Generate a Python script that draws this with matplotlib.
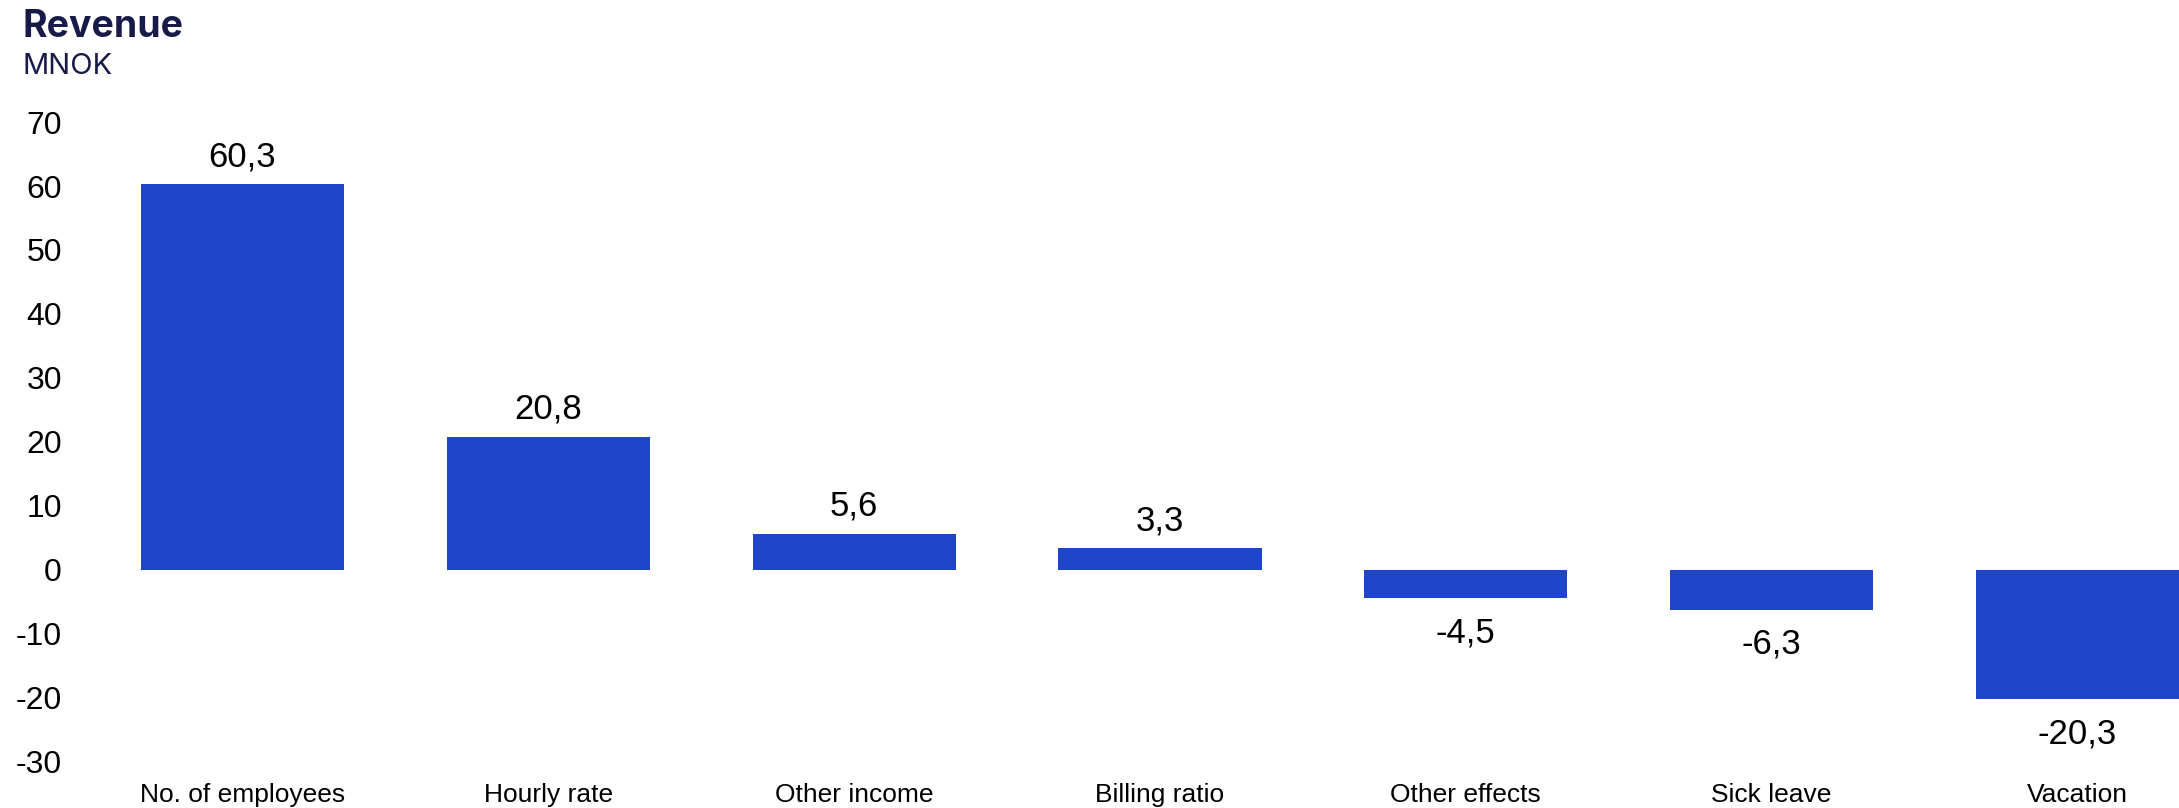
import matplotlib
matplotlib.use("Agg")
import matplotlib.pyplot as plt
from matplotlib import font_manager

# Revenue bridge drivers (MNOK)
categories = ["No. of employees", "Hourly rate", "Other income", "Billing ratio",
              "Other effects", "Sick leave", "Vacation"]
values = [60.3, 20.8, 5.6, 3.3, -4.5, -6.3, -20.3]
y_ticks = [-30, -20, -10, 0, 10, 20, 30, 40, 50, 60, 70]

BAR_COLOR = "#1e45c8"
NAVY = "#181b48"

installed = {f.name for f in font_manager.fontManager.ttflist}
body_font = "Liberation Sans" if "Liberation Sans" in installed else "DejaVu Sans"
head_font = "Inter" if "Inter" in installed else body_font
plt.rcParams["font.family"] = [body_font, "DejaVu Sans"]

fig = plt.figure(figsize=(21.79, 8.08), dpi=100)
ax = fig.add_axes([0.0647, 0.0579, 0.9353, 0.7909])

x = list(range(len(categories)))
ax.bar(x, values, width=0.664, color=BAR_COLOR, linewidth=0)

# value labels above / below each bar
for xi, v in zip(x, values):
    label = f"{v:.1f}".replace(".", ",")
    if v >= 0:
        ax.annotate(label, (xi, v), xytext=(0, 8), textcoords="offset points",
                    ha="center", va="bottom", fontsize=25, color="black")
    else:
        ax.annotate(label, (xi, v), xytext=(0, -13), textcoords="offset points",
                    ha="center", va="top", fontsize=25, color="black")

ax.set_xlim(-0.332, len(categories) - 1 + 0.332)
ax.set_ylim(-30, 70)
ax.set_yticks(y_ticks)
ax.set_yticklabels([str(t) for t in y_ticks], fontsize=23)
ax.set_xticks(x)
ax.set_xticklabels(categories, fontsize=19)
ax.tick_params(axis="y", length=0, pad=57)
ax.tick_params(axis="x", length=0, pad=16)
for s in ax.spines.values():
    s.set_visible(False)

fig.text(0.0104, 0.9546, "Revenue", fontsize=27, fontweight="bold", color=NAVY,
         family=[head_font, "DejaVu Sans"], va="baseline", ha="left")
fig.text(0.0104, 0.9084, "MNOK", fontsize=21, color=NAVY,
         family=[head_font, "DejaVu Sans"], va="baseline", ha="left")

fig.savefig("out.png", dpi=100, facecolor="white")
